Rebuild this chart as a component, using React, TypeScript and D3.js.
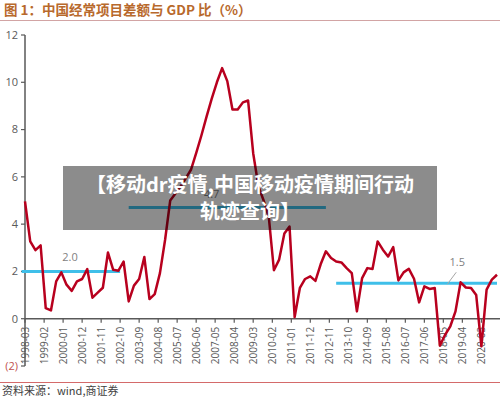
import { useEffect, useRef } from "react";
import * as d3 from "d3";

// quarterly current account balance / GDP (%), 1998-03 .. 2020-12
const firstQuarter = "1998-03";
const caToGdp = [
  4.96, 3.27, 2.9, 3.1, 0.45, 0.35, 1.58, 1.96, 1.44, 1.18, 1.58, 1.68,
  2.1, 0.89, 1.1, 1.31, 2.8, 2.07, 2.03, 2.42, 0.73, 1.4, 1.68, 2.61,
  0.83, 1.04, 1.93, 3.34, 5.0, 5.3, 5.6, 5.95, 6.3, 7.0, 7.75, 8.55,
  9.3, 10.0, 10.6, 10.05, 8.85, 8.85, 9.15, 9.23, 7.0, 5.6, 5.0, 4.3,
  2.05, 2.5, 3.6, 3.9, 0.07, 1.3, 1.68, 1.79, 1.6, 2.3, 2.85, 2.57,
  2.42, 2.38, 2.14, 1.93, 0.31, 1.72, 2.14, 2.1, 3.27, 2.92, 2.63, 3.03,
  1.62, 1.96, 2.11, 1.69, 0.69, 1.37, 1.26, 1.3, -1.14, -0.68, -0.32, 0.31,
  1.54, 1.32, 1.3, 1.0, -1.17, 1.23, 1.65, 1.86,
];

const xTickLabels = [
  "1998-03", "1999-02", "2000-01", "2000-12", "2001-11", "2002-10", "2003-09",
  "2004-08", "2005-07", "2006-06", "2007-05", "2008-04", "2009-03", "2010-02",
  "2011-01", "2011-12", "2012-11", "2013-10", "2014-09", "2015-08", "2016-07",
  "2017-06", "2018-05", "2019-04", "2020-03",
];

const yTicks = [-2, 0, 2, 4, 6, 8, 10, 12];

// period averages
const avgFrom = ["1998-01", "2003-03", "2013-03"];
const avgTo = ["2002-10", "2012-09", "2020-12"];
const avgValue = [2.0, 4.7, 1.5];
const avgLabel = ["2.0", "4.7", "1.5"];
const avgLabelAt = ["2000-05", "2007-03", "2019-01"];

const parse = d3.timeParse("%Y-%m");

export default function App() {
  const svgRef = useRef<SVGSVGElement | null>(null);
  const width = 500;
  const height = 398;

  useEffect(() => {
    const svg = d3.select(svgRef.current);
    svg.selectAll("*").remove();

    const start = parse(firstQuarter) as Date;
    const dates = caToGdp.map((_, i) => d3.timeMonth.offset(start, i * 3));

    const x = d3
      .scaleTime()
      .domain([start, dates[dates.length - 1]])
      .range([25, 497]);
    const y = d3.scaleLinear().domain([-2, 12]).range([366, 35]);

    svg.append("rect").attr("width", width).attr("height", height).attr("fill", "#fff");

    // title
    svg
      .append("text")
      .attr("x", 4)
      .attr("y", 15)
      .attr("fill", "#b8692c")
      .attr("font-size", 13.5)
      .attr("font-weight", "bold")
      .attr("font-family", "'Noto Sans CJK SC', sans-serif")
      .text("图 1：中国经常项目差额与 GDP 比（%）");
    svg
      .append("line")
      .attr("x1", 0)
      .attr("x2", width)
      .attr("y1", 20.5)
      .attr("y2", 20.5)
      .attr("stroke", "#d2a4a4")
      .attr("stroke-width", 1);

    const axisColor = "#595959";

    // y axis
    svg
      .append("line")
      .attr("x1", 25)
      .attr("x2", 25)
      .attr("y1", y(12))
      .attr("y2", y(-2))
      .attr("stroke", axisColor)
      .attr("stroke-width", 1.5);
    const yt = svg.append("g").selectAll("g").data(yTicks).join("g");
    yt.append("line")
      .attr("x1", 21)
      .attr("x2", 25)
      .attr("y1", (d) => y(d))
      .attr("y2", (d) => y(d))
      .attr("stroke", axisColor)
      .attr("stroke-width", 1.2);
    yt.append("text")
      .attr("x", 18)
      .attr("y", (d) => y(d))
      .attr("dy", "0.35em")
      .attr("text-anchor", "end")
      .attr("font-size", 11)
      .attr("font-family", "'Open Sans', sans-serif")
      .attr("fill", (d) => (d < 0 ? "#c0504d" : axisColor))
      .text((d) => (d < 0 ? `(${-d})` : `${d}`));

    // x axis at zero
    svg
      .append("line")
      .attr("x1", 25)
      .attr("x2", 500)
      .attr("y1", y(0))
      .attr("y2", y(0))
      .attr("stroke", axisColor)
      .attr("stroke-width", 1.5);
    const xt = svg.append("g").selectAll("g").data(xTickLabels).join("g");
    xt.append("line")
      .attr("x1", (d) => x(parse(d) as Date))
      .attr("x2", (d) => x(parse(d) as Date))
      .attr("y1", y(0))
      .attr("y2", y(0) + 4)
      .attr("stroke", axisColor)
      .attr("stroke-width", 1.2);
    xt.append("text")
      .attr(
        "transform",
        (d) => `translate(${x(parse(d) as Date)},${y(0) + 8}) rotate(-90)`
      )
      .attr("dy", "0.35em")
      .attr("text-anchor", "end")
      .attr("font-size", 10)
      .attr("font-family", "'Open Sans', sans-serif")
      .attr("fill", axisColor)
      .text((d) => d);

    // average lines
    avgValue.forEach((v, i) => {
      svg
        .append("line")
        .attr("x1", x(parse(avgFrom[i]) as Date))
        .attr("x2", x(parse(avgTo[i]) as Date))
        .attr("y1", y(v))
        .attr("y2", y(v))
        .attr("stroke", "#3fbfe9")
        .attr("stroke-width", 3);
    });

    // series
    const line = d3
      .line<number>()
      .x((_, i) => x(dates[i]))
      .y((d) => y(d));
    svg
      .append("path")
      .datum(caToGdp)
      .attr("fill", "none")
      .attr("stroke", "#b8001e")
      .attr("stroke-width", 2.5)
      .attr("stroke-linejoin", "round")
      .attr("d", line);

    // average labels
    avgLabel.forEach((t, i) => {
      const lx = x(parse(avgLabelAt[i]) as Date);
      const isLast = i === avgLabel.length - 1;
      const ly = y(avgValue[i]) - (isLast ? 17 : 10);
      if (isLast) {
        svg
          .append("line")
          .attr("x1", lx - 10)
          .attr("y1", y(avgValue[i]) + 1)
          .attr("x2", lx - 1)
          .attr("y2", ly + 6)
          .attr("stroke", "#a6a6a6")
          .attr("stroke-width", 1);
      }
      svg
        .append("text")
        .attr("x", lx)
        .attr("y", ly)
        .attr("text-anchor", "middle")
        .attr("font-size", 11)
        .attr("font-family", "'Open Sans', sans-serif")
        .attr("fill", "#7f7f7f")
        .text(t);
    });

    // bottom rule and source
    svg
      .append("line")
      .attr("x1", 0)
      .attr("x2", width)
      .attr("y1", 382.5)
      .attr("y2", 382.5)
      .attr("stroke", "#d46a6a")
      .attr("stroke-width", 1);
    svg
      .append("text")
      .attr("x", 2)
      .attr("y", 395)
      .attr("font-size", 11)
      .attr("font-family", "'Noto Sans CJK SC', sans-serif")
      .attr("fill", "#404040")
      .text("资料来源：wind,商证券");

    // overlay banner
    svg
      .append("rect")
      .attr("x", 63)
      .attr("y", 166)
      .attr("width", 374)
      .attr("height", 64)
      .attr("fill", "#000")
      .attr("fill-opacity", 0.45);
    const banner = ["【移动dr疫情,中国移动疫情期间行动", "轨迹查询】"];
    banner.forEach((t, i) => {
      svg
        .append("text")
        .attr("x", 250)
        .attr("y", 185 + i * 27)
        .attr("dy", "0.35em")
        .attr("text-anchor", "middle")
        .attr("font-size", 20)
        .attr("font-weight", "bold")
        .attr("font-family", "'Noto Sans CJK SC', sans-serif")
        .attr("fill", "#fff")
        .text(t);
    });
  }, []);

  return (
    <svg
      ref={svgRef}
      width={width}
      height={height}
      style={{ position: "absolute", left: 0, top: 0 }}
    ></svg>
  );
}
